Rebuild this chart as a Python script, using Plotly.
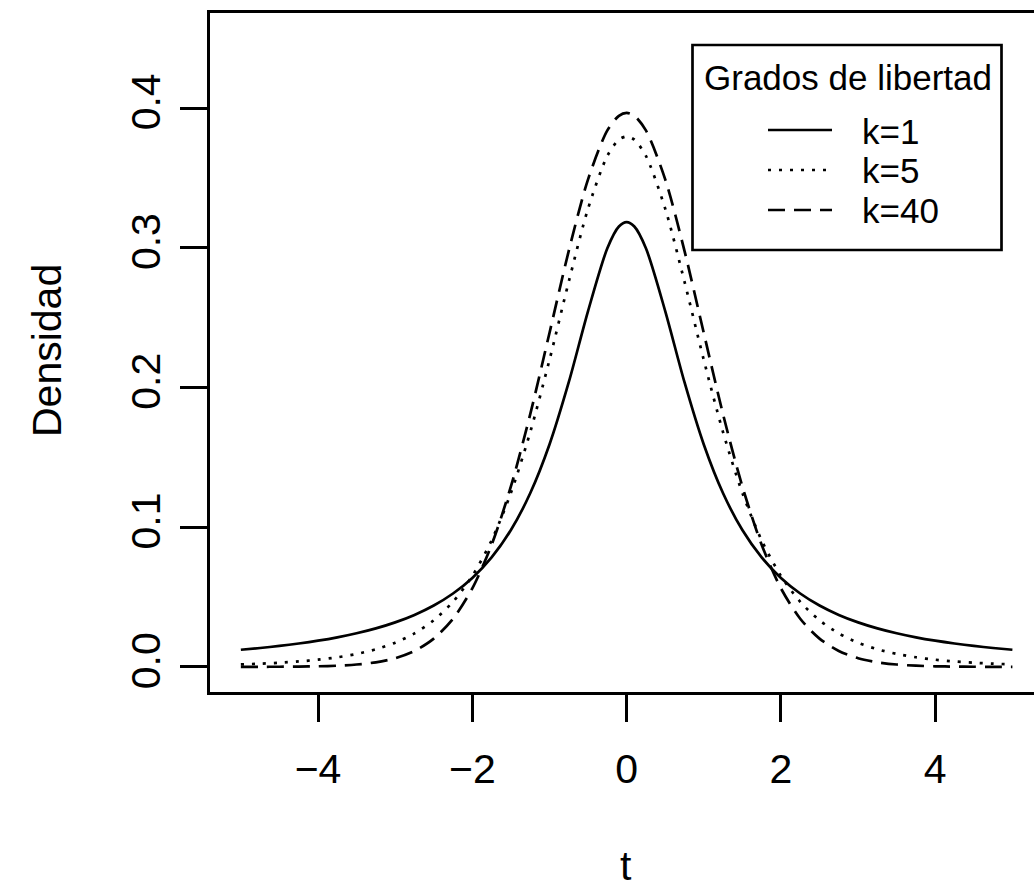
import plotly.graph_objects as go

# ---- data ----
t_vals = [-5, -4.75, -4.5, -4.25, -4, -3.75, -3.5, -3.25, -3, -2.75, -2.5, -2.25, -2,
          -1.75, -1.5, -1.25, -1, -0.75, -0.5, -0.25, -0.1, 0, 0.1, 0.25, 0.5, 0.75,
          1, 1.25, 1.5, 1.75, 2, 2.25, 2.5, 2.75, 3, 3.25, 3.5, 3.75, 4, 4.25, 4.5, 4.75, 5]

dens_k1 = [0.01224, 0.01351, 0.01498, 0.01670, 0.01872, 0.02113, 0.02402, 0.02753, 0.03183,
           0.03718, 0.04390, 0.05251, 0.06366, 0.07835, 0.09794, 0.12422, 0.15915, 0.20372,
           0.25465, 0.29959, 0.31516, 0.31831, 0.31516, 0.29959, 0.25465, 0.20372, 0.15915,
           0.12422, 0.09794, 0.07835, 0.06366, 0.05251, 0.04390, 0.03718, 0.03183, 0.02753,
           0.02402, 0.02113, 0.01872, 0.01670, 0.01498, 0.01351, 0.01224]

dens_k5 = [0.00176, 0.00227, 0.00295, 0.00387, 0.00512, 0.00685, 0.00924, 0.01259, 0.01729,
           0.02393, 0.03333, 0.04657, 0.06509, 0.09054, 0.12452, 0.16790, 0.21968, 0.27570,
           0.32793, 0.36572, 0.37734, 0.37961, 0.37734, 0.36572, 0.32793, 0.27570, 0.21968,
           0.16790, 0.12452, 0.09054, 0.06509, 0.04657, 0.03333, 0.02393, 0.01729, 0.01259,
           0.00924, 0.00685, 0.00512, 0.00387, 0.00295, 0.00227, 0.00176]

dens_k40 = [0.00002, 0.00004, 0.00009, 0.00019, 0.00040, 0.00082, 0.00166, 0.00325, 0.00619,
            0.01139, 0.02022, 0.03444, 0.05619, 0.08738, 0.12911, 0.18074, 0.23898, 0.29776,
            0.34893, 0.38397, 0.39443, 0.39646, 0.39443, 0.38397, 0.34893, 0.29776, 0.23898,
            0.18074, 0.12911, 0.08738, 0.05619, 0.03444, 0.02022, 0.01139, 0.00619, 0.00325,
            0.00166, 0.00082, 0.00040, 0.00019, 0.00009, 0.00004, 0.00002]

series_names = ["k=1", "k=5", "k=40"]
x_ticks = [-4, -2, 0, 2, 4]
y_ticks = [0.0, 0.1, 0.2, 0.3, 0.4]
y_tick_text = ["0.0", "0.1", "0.2", "0.3", "0.4"]
x_title = "t"
y_title = "Densidad"
legend_title = "Grados de libertad"

# ---- styles ----
FONT = "Liberation Sans, Arial, Helvetica, sans-serif"
LW = 2.7
dashes = ["solid", "3px,8px", "17px,9px"]

fig = go.Figure()
for name, dens, dash in zip(series_names, [dens_k1, dens_k5, dens_k40], dashes):
    fig.add_trace(go.Scatter(x=t_vals, y=dens, mode="lines", name=name,
                             line=dict(color="black", width=LW, dash=dash,
                                       shape="spline", smoothing=0.8),
                             showlegend=False, hoverinfo="skip"))

# plot area in pixels
L, R, T, B = 210, 1034, 13, 692
W, H = 1034, 891
pw, ph = R - L, B - T

def px(xp):
    return (xp - L) / pw

def py(yp):
    return (B - yp) / ph

shapes = []
annotations = []

# manual legend (R-style)
shapes.append(dict(type="rect", xref="paper", yref="paper",
                   x0=px(692.5), x1=px(1001.5), y0=py(250), y1=py(45),
                   line=dict(color="black", width=LW), fillcolor="white", layer="above"))
annotations.append(dict(text=legend_title, xref="paper", yref="paper",
                        x=px(848), y=py(77), xanchor="center", yanchor="middle",
                        showarrow=False, font=dict(family=FONT, size=35, color="black")))
rows = [130, 170, 210]
for name, dash, ry in zip(series_names, dashes, rows):
    shapes.append(dict(type="line", xref="paper", yref="paper",
                       x0=px(768), x1=px(832), y0=py(ry), y1=py(ry),
                       line=dict(color="black", width=LW, dash=dash), layer="above"))
    annotations.append(dict(text=name, xref="paper", yref="paper",
                            x=px(860), y=py(ry + 1), xanchor="left", yanchor="middle",
                            showarrow=False, font=dict(family=FONT, size=35, color="black")))

# axis titles
annotations.append(dict(text=x_title, xref="paper", yref="paper",
                        x=px(626.4), y=py(866), xanchor="center", yanchor="middle",
                        showarrow=False, font=dict(family=FONT, size=41, color="black")))
annotations.append(dict(text=y_title, xref="paper", yref="paper",
                        x=px(47), y=py(351), xanchor="center", yanchor="middle",
                        textangle=-90, showarrow=False,
                        font=dict(family=FONT, size=41, color="black")))

fig.update_layout(
    width=W, height=H,
    margin=dict(l=L, r=W - R, t=T, b=H - B, pad=0),
    paper_bgcolor="white", plot_bgcolor="white",
    font=dict(family=FONT, size=41, color="black"),
    shapes=shapes, annotations=annotations,
    showlegend=False,
)
fig.update_xaxes(range=[-5.4, 5.28], tickvals=x_ticks, ticks="outside", ticklen=27,
                 tickwidth=LW, tickcolor="black", showline=True, linewidth=LW,
                 linecolor="black", mirror=True, showgrid=False, zeroline=False,
                 tickfont=dict(family=FONT, size=41, color="black"),
                 ticklabelstandoff=12)
fig.update_yaxes(range=[-0.018, 0.468], tickvals=y_ticks, ticktext=y_tick_text,
                 ticks="outside", ticklen=27, tickwidth=LW, tickcolor="black",
                 showline=True, linewidth=LW, linecolor="black", mirror=False,
                 showgrid=False, zeroline=False, tickangle=-90,
                 tickfont=dict(family=FONT, size=41, color="black"),
                 ticklabelstandoff=4)

fig.write_html("out.html", config={"displayModeBar": False},
               post_script="document.body.style.margin='0';document.body.style.overflow='hidden';")
